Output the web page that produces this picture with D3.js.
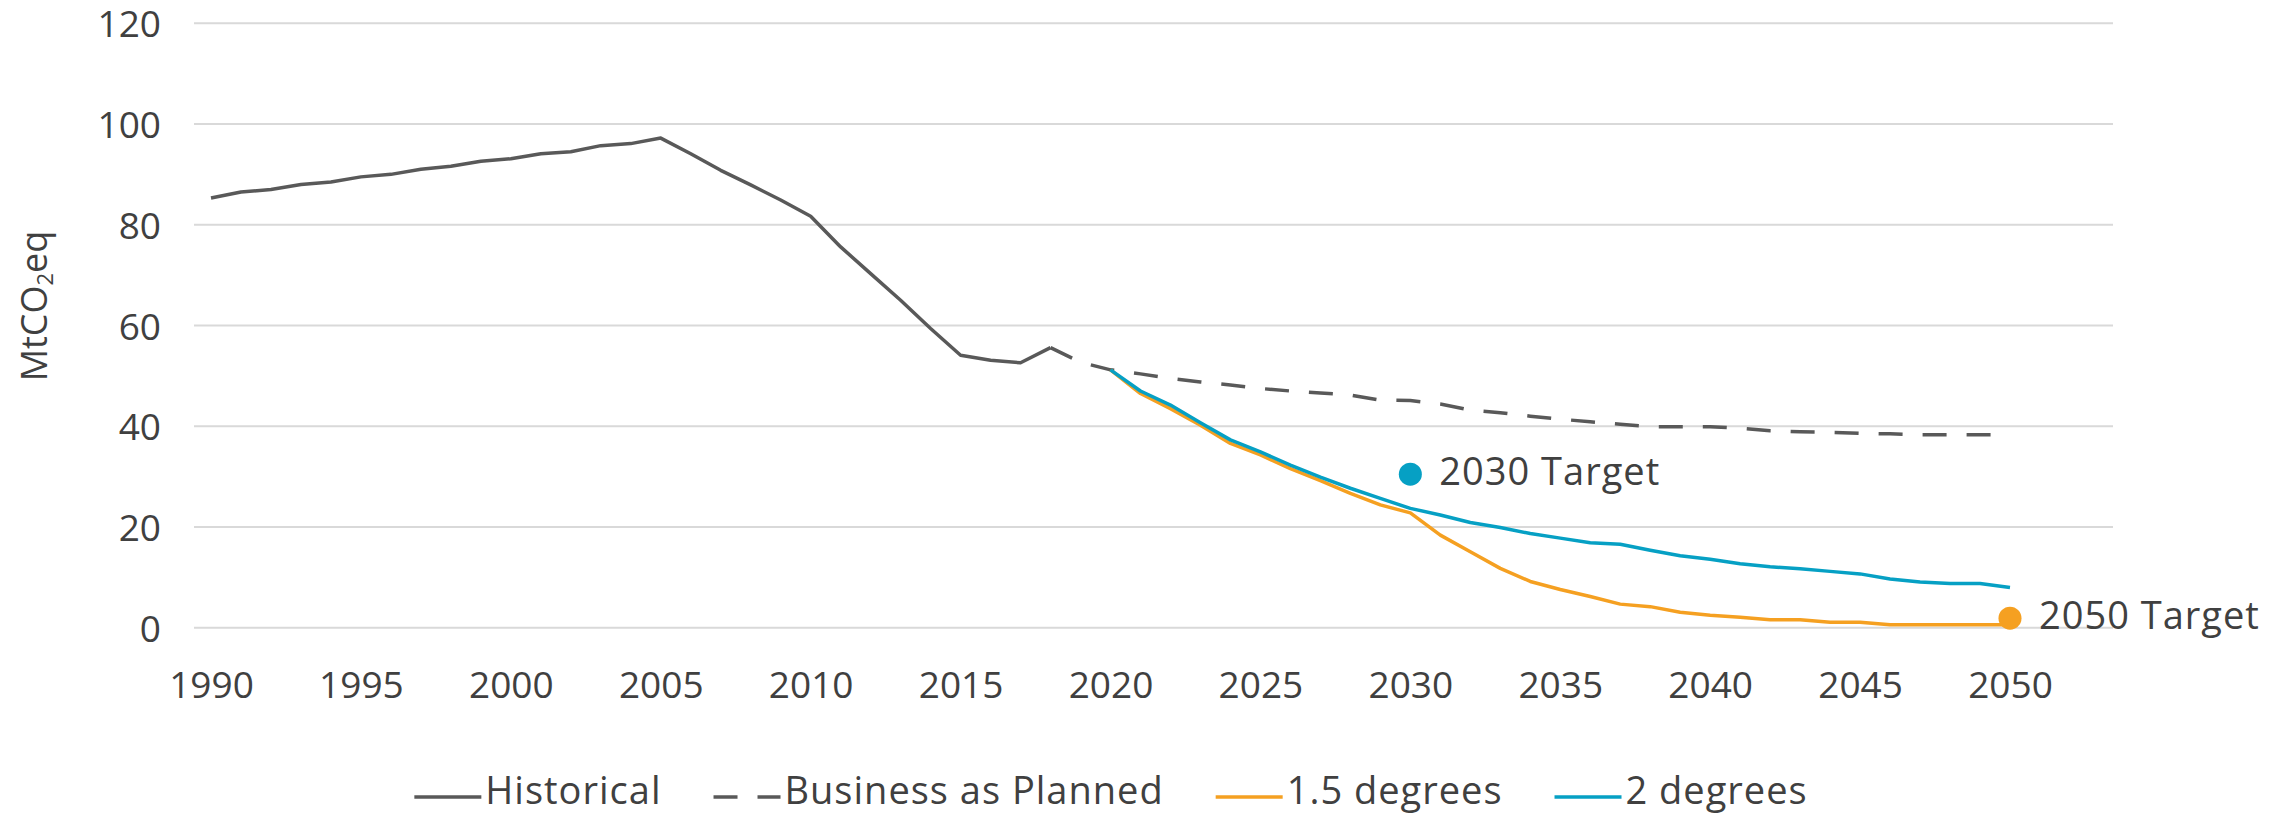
<!DOCTYPE html>
<html>
<head>
<meta charset="utf-8">
<script src="https://cdn.jsdelivr.net/npm/d3@7"></script>
<style>
  body { margin: 0; background: #fff; }
  text { font-family: "Open Sans", sans-serif; fill: #404040; }
</style>
</head>
<body>
<div id="chart"></div>
<script>
// chart data
var years = [1990, 1991, 1992, 1993, 1994, 1995, 1996, 1997, 1998, 1999,
  2000, 2001, 2002, 2003, 2004, 2005, 2006, 2007, 2008, 2009,
  2010, 2011, 2012, 2013, 2014, 2015, 2016, 2017, 2018, 2019,
  2020, 2021, 2022, 2023, 2024, 2025, 2026, 2027, 2028, 2029,
  2030, 2031, 2032, 2033, 2034, 2035, 2036, 2037, 2038, 2039,
  2040, 2041, 2042, 2043, 2044, 2045, 2046, 2047, 2048, 2049, 2050];

// 1990 - 2018
var historical = [85.2, 86.4, 86.9, 87.9, 88.4, 89.4, 89.9, 90.9, 91.5, 92.5,
  93.0, 94.0, 94.4, 95.6, 96.0, 97.1, 94.0, 90.7, 87.8, 84.8,
  81.6, 75.5, 70.2, 64.9, 59.3, 54.0, 53.0, 52.5, 55.5];

// 2018 - 2050
var businessAsPlanned = [55.5, 52.6, 51.1, 50.3, 49.4, 48.7, 48.1, 47.4, 46.9, 46.5,
  46.1, 45.1, 45.0, 44.3, 43.1, 42.6, 41.9, 41.3, 40.8, 40.3,
  39.8, 39.8, 39.8, 39.5, 39.0, 38.8, 38.7, 38.5, 38.4, 38.2,
  38.2, 38.2, 38.2];

// 2020 - 2050
var onePointFive = [51.1, 46.4, 43.4, 40.1, 36.5, 34.2, 31.5, 29.1, 26.6, 24.3,
  22.7, 18.3, 15.0, 11.7, 9.1, 7.5, 6.1, 4.6, 4.1, 3.0,
  2.4, 2.0, 1.5, 1.5, 1.0, 1.0, 0.5, 0.5, 0.5, 0.5, 0.5];

var twoDegrees = [51.1, 46.9, 44.1, 40.6, 37.2, 34.8, 32.2, 29.8, 27.6, 25.6,
  23.6, 22.3, 20.8, 19.8, 18.6, 17.7, 16.8, 16.5, 15.3, 14.2,
  13.5, 12.6, 12.0, 11.6, 11.1, 10.6, 9.6, 9.0, 8.7, 8.7, 7.9];

var targetLabels = ["2030 Target", "2050 Target"];
var targetYears = [2030, 2050];
var targetValues = [30.4, 1.8];

var xTicks = [1990, 1995, 2000, 2005, 2010, 2015, 2020, 2025, 2030, 2035, 2040, 2045, 2050];
var yTicks = [0, 20, 40, 60, 80, 100, 120];

var legendNames = ["Historical", "Business as Planned", "1.5 degrees", "2 degrees"];

var grey = "#595959";
var orange = "#F5A021";
var blue = "#06A0C4";

var svgWidth = 2285;
var svgHeight = 816;

var plot = { left: 194, right: 2113, top: 22.7, bottom: 627.3 };

var svg = d3.select("#chart")
  .append("svg")
  .attr("width", svgWidth)
  .attr("height", svgHeight);

var xScale = d3.scaleLinear()
  .domain([1990, 2050])
  .range([211, 2010]);

var yScale = d3.scaleLinear()
  .domain([0, 120])
  .range([plot.bottom, plot.top]);

// gridlines + y labels
var leftAxis = d3.axisLeft(yScale)
  .tickValues(yTicks)
  .tickSize(-(plot.right - plot.left))
  .tickPadding(33);

var yAxisG = svg.append("g")
  .attr("transform", `translate(${plot.left}, 0)`)
  .call(leftAxis);

yAxisG.select(".domain").remove();
yAxisG.selectAll("line")
  .attr("stroke", "#d9d9d9")
  .attr("stroke-width", 2);
yAxisG.selectAll("text")
  .attr("dy", null)
  .attr("y", 14)
  .style("font-size", "37px")
  .style("font-family", "'Open Sans', sans-serif")
  .attr("fill", "#404040");

// x labels
var bottomAxis = d3.axisBottom(xScale)
  .tickValues(xTicks)
  .tickFormat(d3.format("d"))
  .tickSize(0);

var xAxisG = svg.append("g")
  .attr("transform", `translate(0, ${plot.bottom})`)
  .call(bottomAxis);

xAxisG.select(".domain").remove();
xAxisG.selectAll("text")
  .attr("dy", null)
  .attr("y", 71)
  .style("font-size", "37px")
  .style("font-family", "'Open Sans', sans-serif")
  .attr("fill", "#404040");

// y axis title
var yTitle = svg.append("text")
  .attr("transform", `translate(47, 306) rotate(-90)`)
  .attr("text-anchor", "middle")
  .style("font-size", "36px");
yTitle.append("tspan").text("MtCO");
yTitle.append("tspan").attr("baseline-shift", "-25%").style("font-size", "22px").text("2");
yTitle.append("tspan").text("eq");

// lines
function makeLine(values, startYear) {
  return d3.line()
    .x(function(d, i) { return xScale(startYear + i); })
    .y(function(d) { return yScale(d); })(values);
}

svg.append("path")
  .attr("d", makeLine(businessAsPlanned, 2018))
  .attr("fill", "none")
  .attr("stroke", grey)
  .attr("stroke-width", 3.5)
  .attr("stroke-dasharray", "24,20");

svg.append("path")
  .attr("d", makeLine(historical, years[0]))
  .attr("fill", "none")
  .attr("stroke", grey)
  .attr("stroke-width", 3.5)
  .attr("stroke-linejoin", "round");

svg.append("path")
  .attr("d", makeLine(onePointFive, 2020))
  .attr("fill", "none")
  .attr("stroke", orange)
  .attr("stroke-width", 3.5)
  .attr("stroke-linejoin", "round");

svg.append("path")
  .attr("d", makeLine(twoDegrees, 2020))
  .attr("fill", "none")
  .attr("stroke", blue)
  .attr("stroke-width", 3.5)
  .attr("stroke-linejoin", "round");

// target markers
var targetColors = [blue, orange];
targetLabels.forEach(function(label, i) {
  var cx = xScale(targetYears[i]);
  var cy = yScale(targetValues[i]);
  svg.append("circle")
    .attr("cx", cx)
    .attr("cy", cy)
    .attr("r", 11.5)
    .attr("fill", targetColors[i]);
  svg.append("text")
    .attr("x", cx + 29)
    .attr("y", cy + 11)
    .style("font-size", "38px")
    .style("letter-spacing", "1px")
    .text(label);
});

// legend
var legendColors = [grey, grey, orange, blue];
var legendDash = [null, "24,20", null, null];
var legendG = svg.append("g");
var cursor = 0;
legendNames.forEach(function(name, i) {
  var item = legendG.append("g").attr("transform", `translate(${cursor}, 0)`);
  item.append("line")
    .attr("x1", 0).attr("x2", 67)
    .attr("y1", 797).attr("y2", 797)
    .attr("stroke", legendColors[i])
    .attr("stroke-width", 3.5)
    .attr("stroke-dasharray", legendDash[i]);
  var t = item.append("text")
    .attr("x", 71)
    .attr("y", 804)
    .style("font-size", "38px")
    .style("letter-spacing", "1px")
    .text(name);
  cursor += 71 + t.node().getComputedTextLength() + 52;
});
var legendWidth = cursor - 52;
legendG.attr("transform", `translate(${1111 - legendWidth / 2}, 0)`);
</script>
</body>
</html>
